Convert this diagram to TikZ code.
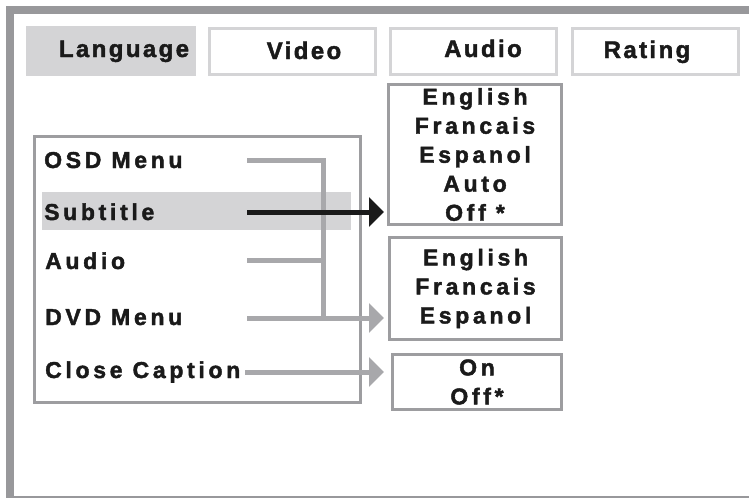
\documentclass[tikz,border=0pt]{standalone}
\usepackage{fontspec}
\setmainfont{Liberation Sans}
\newfontfamily\menufont[LetterSpace=16,FakeBold=1.8]{Liberation Sans Bold}
\newfontfamily\tabfont[LetterSpace=10,FakeBold=1.8]{Liberation Sans Bold}
\usetikzlibrary{arrows.meta}
\definecolor{framegray}{HTML}{98989B}
\definecolor{boxgray}{HTML}{9D9DA0}
\definecolor{linkgray}{HTML}{A8A8AB}
\definecolor{tabgray}{HTML}{D4D4D6}
\definecolor{ink}{HTML}{1A1A1A}

\begin{document}
\begin{tikzpicture}[x=1pt,y=-1pt,>={Triangle[length=15pt,width=29pt]}]
\tikzstyle{tabbox}=[draw=tabgray,line width=3pt,minimum width=166pt,minimum height=46pt,inner sep=0pt]
\tikzstyle{tabtext}=[anchor=base,inner sep=0pt,text=ink,font=\tabfont\fontsize{24}{29}\selectfont]
\tikzstyle{menuitem}=[anchor=base west,inner sep=0pt,text=ink,font=\menufont\fontsize{23}{29}\selectfont]
\tikzstyle{optbox}=[draw=boxgray,line width=3pt,inner sep=0pt,align=center,text=ink,font=\menufont\fontsize{23}{29}\selectfont]
\tikzstyle{link}=[draw=linkgray,line width=5pt]
\useasboundingbox (0,0) rectangle (749,498);
% outer frame
\draw[framegray,line width=8pt] (749,10) -- (10,10) -- (10,498);
\draw[framegray,line width=2pt] (10,497) -- (749,497);
% tabs
\node[fill=tabgray,minimum width=170pt,minimum height=50pt,inner sep=0pt] (lang) at (111,51) {};
\node[tabbox] (video)  at (292.5,51.5) {};
\node[tabbox] (audio)  at (473.5,51.5) {};
\node[tabbox] (rating) at (655.5,51.5) {};
\node[tabtext] (langT)   at (124,57) {Language};
\node[tabtext] (videoT)  at (304,59) {Video};
\node[tabtext] (audioT)  at (483,57) {Audio};
\node[tabtext] (ratingT) at (647,58) {Rating};
% setup menu
\fill[tabgray] (42,192) rectangle (351,230);
\node[draw=boxgray,line width=3pt,minimum width=326pt,minimum height=266pt,inner sep=0pt] (menu) at (197.5,269.5) {};
\node[menuitem] (osd) at (44,168) {OSD Menu};
\node[menuitem] (sub) at (44,220) {Subtitle};
\node[menuitem] (aud) at (45,269) {Audio};
\node[menuitem] (dvd) at (45,325) {DVD Menu};
\node[menuitem] (cc)  at (45,378) {Close Caption};
% option boxes
\node[optbox,minimum width=173pt,minimum height=140pt] (subOpt) at (475,154.5) {English\\Francais\\Espanol\\Auto\\Off~*};
\node[optbox,minimum width=172pt,minimum height=102pt] (langOpt) at (475.5,288.5) {English\\Francais\\Espanol};
\node[optbox,minimum width=169pt,minimum height=55pt] (ccOpt) at (477,382) {On\\Off*};
% connectors
\coordinate (osdS) at (247,160);
\coordinate (subS) at (247,212);
\coordinate (audS) at (247,260);
\coordinate (dvdS) at (247,318);
\coordinate (ccS)  at (245,372);
\coordinate (bus)  at (323,0);
\coordinate (tip)  at (384,0);
\draw[link] (osdS) -- (osdS -| bus) -- (bus |- dvdS);
\draw[link] (audS) -- (audS -| bus);
\draw[link,->] (dvdS) -- (dvdS -| tip);
\draw[link,->] (ccS) -- (ccS -| tip);
\draw[ink,line width=5pt,->] (subS) -- (subS -| tip);
\end{tikzpicture}
\end{document}
